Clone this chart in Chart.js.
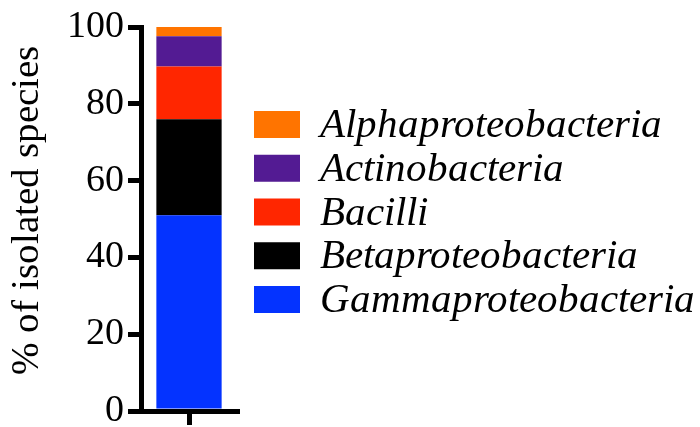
<!DOCTYPE html>
<html>
<head>
<meta charset="utf-8">
<script src="https://cdn.jsdelivr.net/npm/chart.js@4"></script>
<style>
  /* local serif faces, loaded through FontFace so canvas gets them */
  @font-face { font-family: 'RefSerif'; font-style: normal; src: local('Liberation Serif'), local('LiberationSerif'), local('Tinos'), local('Times New Roman'); }
  @font-face { font-family: 'RefSerif'; font-style: italic; src: local('Liberation Serif Italic'), local('LiberationSerif-Italic'), local('Tinos Italic'), local('Times New Roman Italic'); }
  html, body { margin: 0; padding: 0; background: #fff; }
  #wrap { width: 700px; height: 427px; position: relative; }
</style>
</head>
<body>
<div id="wrap"><canvas id="chart"></canvas></div>
<script>
// ─── data: bacterial classes, stacked from the bottom up ───
const categories = [''];
const classes = ['Gammaproteobacteria', 'Betaproteobacteria', 'Bacilli', 'Actinobacteria', 'Alphaproteobacteria'];
const percents = [51, 25, 13.7, 7.9, 2.4];
const colors = ['#0433ff', '#000000', '#ff2600', '#531b93', '#ff7400'];
const yTicks = [0, 20, 40, 60, 80, 100];
const yTitle = '% of isolated species';

const SERIF = 'RefSerif, Liberation Serif, Tinos, serif';

function serifText(ctx, text, x, y, size, opts) {
  ctx.save();
  ctx.translate(x, y);
  if (opts.rotate) ctx.rotate(opts.rotate);
  ctx.font = (opts.italic ? 'italic ' : '') + size + 'px ' + SERIF;
  ctx.textAlign = opts.align || 'left';
  ctx.textBaseline = opts.baseline || 'middle';
  ctx.fillStyle = '#000';
  ctx.fillText(text, 0, 0);
  ctx.restore();
}

// y tick labels, y title and the side legend
const serifLabels = {
  id: 'serifLabels',
  afterDraw(chart) {
    const ctx = chart.ctx;
    const ys = chart.scales.y;
    const area = chart.chartArea;

    yTicks.forEach(v => {
      serifText(ctx, String(v), ys.right - 17, ys.getPixelForValue(v), 38, { align: 'right' });
    });

    serifText(ctx, yTitle, 28, (area.top + area.bottom) / 2 - 9, 39, { align: 'center', rotate: -Math.PI / 2 });

    const items = chart.data.datasets.map(d => ({ label: d.label, color: d.backgroundColor })).reverse();
    items.forEach((it, i) => {
      const top = 111 + i * 43.75;
      ctx.fillStyle = it.color;
      ctx.fillRect(254, top, 46, 27);
      serifText(ctx, it.label, 320, top + 26, 40.5, { italic: true, baseline: 'alphabetic' });
    });
  }
};

function draw() {
  new Chart(document.getElementById('chart'), {
    type: 'bar',
    data: {
      labels: categories,
      datasets: classes.map((c, i) => ({
        label: c,
        data: [percents[i]],
        backgroundColor: colors[i],
        borderWidth: 0,
        barPercentage: 0.68,
        categoryPercentage: 1
      }))
    },
    options: {
      responsive: true, maintainAspectRatio: false, animation: false,
      layout: { padding: { left: 5, right: 463, top: 27, bottom: 2 } },
      plugins: { legend: { display: false }, tooltip: { enabled: false } },
      scales: {
        x: {
          stacked: true,
          offset: true,
          grid: { offset: false, drawOnChartArea: false, tickLength: 14, lineWidth: 5, color: '#000' },
          border: { width: 5, color: '#000' },
          ticks: { display: false }
        },
        y: {
          stacked: true, min: 0, max: 100,
          afterBuildTicks: s => { s.ticks = yTicks.map(v => ({ value: v })); },
          // room for labels + title; layout would otherwise cap the side box
          afterFit: s => { s.width = 136; },
          grid: { drawOnChartArea: false, tickLength: 13, lineWidth: 5, color: '#000' },
          border: { width: 5, color: '#000' },
          ticks: { display: false }
        }
      }
    },
    plugins: [serifLabels]
  });
}

Promise.all([
  document.fonts.load('38px RefSerif'),
  document.fonts.load('italic 40px RefSerif')
]).then(draw, draw);
</script>
</body>
</html>
